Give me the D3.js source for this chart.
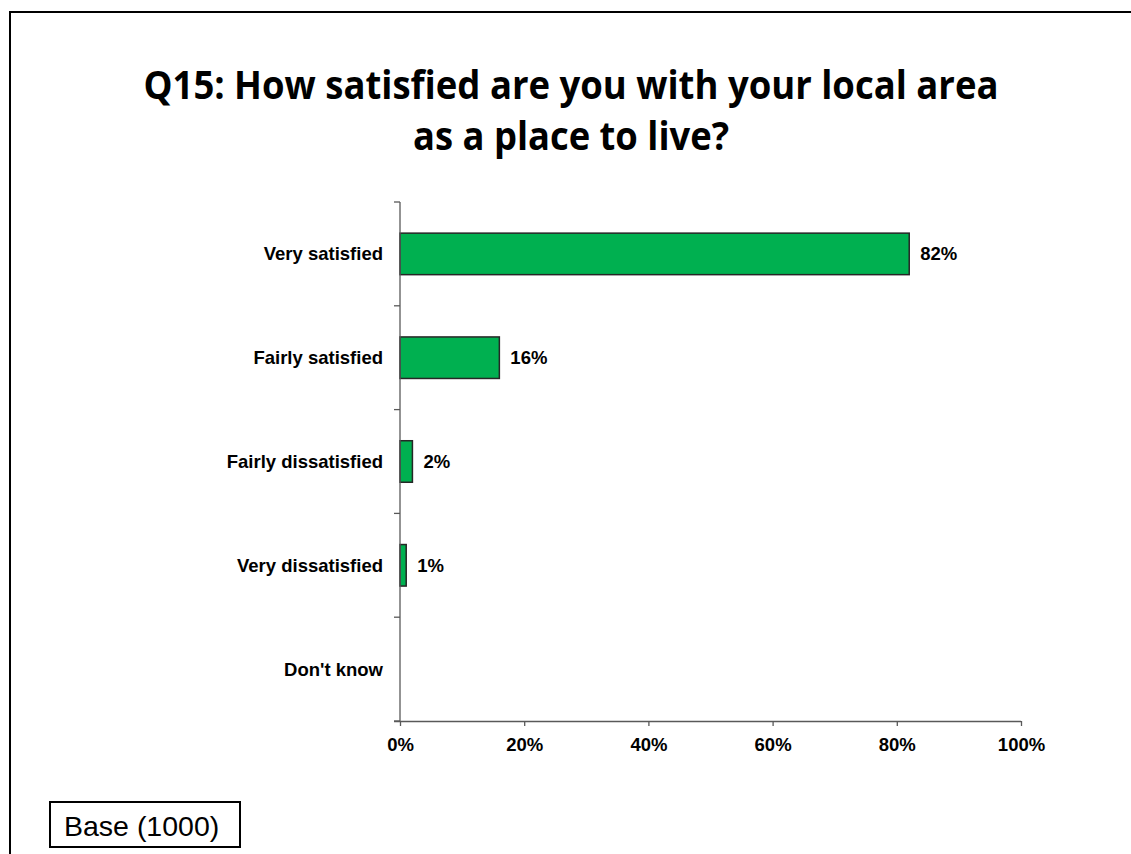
<!DOCTYPE html>
<html>
<head>
<meta charset="utf-8">
<script src="https://cdn.jsdelivr.net/npm/d3@7"></script>
<style>
  html, body { margin: 0; padding: 0; background: #fff; }
  svg { display: block; }
</style>
</head>
<body>
<svg id="chart" width="1131" height="854"></svg>
<script>
const titleLines = ["Q15: How satisfied are you with your local area", "as a place to live?"];
const categories = ["Very satisfied", "Fairly satisfied", "Fairly dissatisfied", "Very dissatisfied", "Don't know"];
const values = [82, 16, 2, 1, null];
const xTicks = [0, 20, 40, 60, 80, 100];
const baseLabel = "Base (1000)";

const svg = d3.select("#chart");
const W = 1131, H = 854;

// outer frame
svg.append("rect").attr("x", 10).attr("y", 12).attr("width", W + 20).attr("height", H + 20)
  .attr("fill", "none").attr("stroke", "#000").attr("stroke-width", 2);

// title
const tFont = "'Open Sans', 'Liberation Sans', sans-serif";
const titleWidths = [855, 316];
const titleY = [99, 150];
svg.append("g").selectAll("text").data(titleLines).join("text")
  .attr("x", 571).attr("y", (d, i) => titleY[i]).attr("text-anchor", "middle")
  .attr("textLength", (d, i) => titleWidths[i]).attr("lengthAdjust", "spacingAndGlyphs")
  .style("font-family", tFont).style("font-weight", "bold").style("font-size", "39px")
  .text(d => d);

const x = d3.scaleLinear().domain([0, 100]).range([400, 1021]);
const y = d3.scaleBand().domain(categories).range([202, 721]).paddingInner(0.6).paddingOuter(0.3);

const axisColor = "#595959";
const labelFont = "Arial, 'Liberation Sans', sans-serif";
const labelSize = "18.5px";

// bars
svg.append("g").selectAll("rect").data(categories.map((c, i) => ({c, v: values[i]})).filter(d => d.v != null))
  .join("rect")
  .attr("x", x(0)).attr("y", d => y(d.c))
  .attr("width", d => x(d.v) - x(0)).attr("height", y.bandwidth())
  .attr("fill", "#00B050").attr("stroke", "#262626").attr("stroke-width", 1.5);

// y axis line and boundary ticks
const step = y.step();
const bounds = d3.range(categories.length + 1).map(i => 202 + i * step);
svg.append("line").attr("x1", x(0)).attr("x2", x(0)).attr("y1", 202).attr("y2", 721)
  .attr("stroke", axisColor).attr("stroke-width", 1.3);
svg.append("g").selectAll("line").data(bounds).join("line")
  .attr("x1", x(0) - 6).attr("x2", x(0)).attr("y1", d => d).attr("y2", d => d)
  .attr("stroke", axisColor).attr("stroke-width", 1.3);

// category labels
svg.append("g").selectAll("text").data(categories).join("text")
  .attr("x", 383).attr("y", d => y(d) + y.bandwidth() / 2)
  .attr("dy", "0.35em").attr("text-anchor", "end")
  .style("font-family", labelFont).style("font-weight", "bold").style("font-size", labelSize)
  .text(d => d);

// x axis
const xAxis = d3.axisBottom(x).tickValues(xTicks).tickSize(5).tickSizeOuter(0).tickFormat(d => d + "%");
const gx = svg.append("g").attr("transform", "translate(0,721)").call(xAxis);
gx.select(".domain").attr("stroke", axisColor).attr("stroke-width", 1.3)
  .attr("d", `M${x(0) - 6},0.5H${x(100)}`);
gx.selectAll(".tick line").attr("stroke", axisColor).attr("stroke-width", 1.3);
gx.selectAll(".tick text").attr("y", 17).attr("dy", "0.71em")
  .style("font-family", labelFont).style("font-weight", "bold").style("font-size", labelSize).attr("fill", "#000");

// value labels
svg.append("g").selectAll("text").data(categories.map((c, i) => ({c, v: values[i]})).filter(d => d.v != null))
  .join("text")
  .attr("x", d => x(d.v) + 11).attr("y", d => y(d.c) + y.bandwidth() / 2)
  .attr("dy", "0.35em")
  .style("font-family", labelFont).style("font-weight", "bold").style("font-size", labelSize)
  .text(d => d.v + "%");

// base box
svg.append("rect").attr("x", 50).attr("y", 802).attr("width", 190).attr("height", 45)
  .attr("fill", "#fff").attr("stroke", "#000").attr("stroke-width", 2);
svg.append("text").attr("x", 64).attr("y", 836)
  .style("font-family", labelFont).style("font-size", "28.5px").text(baseLabel);
</script>
</body>
</html>
